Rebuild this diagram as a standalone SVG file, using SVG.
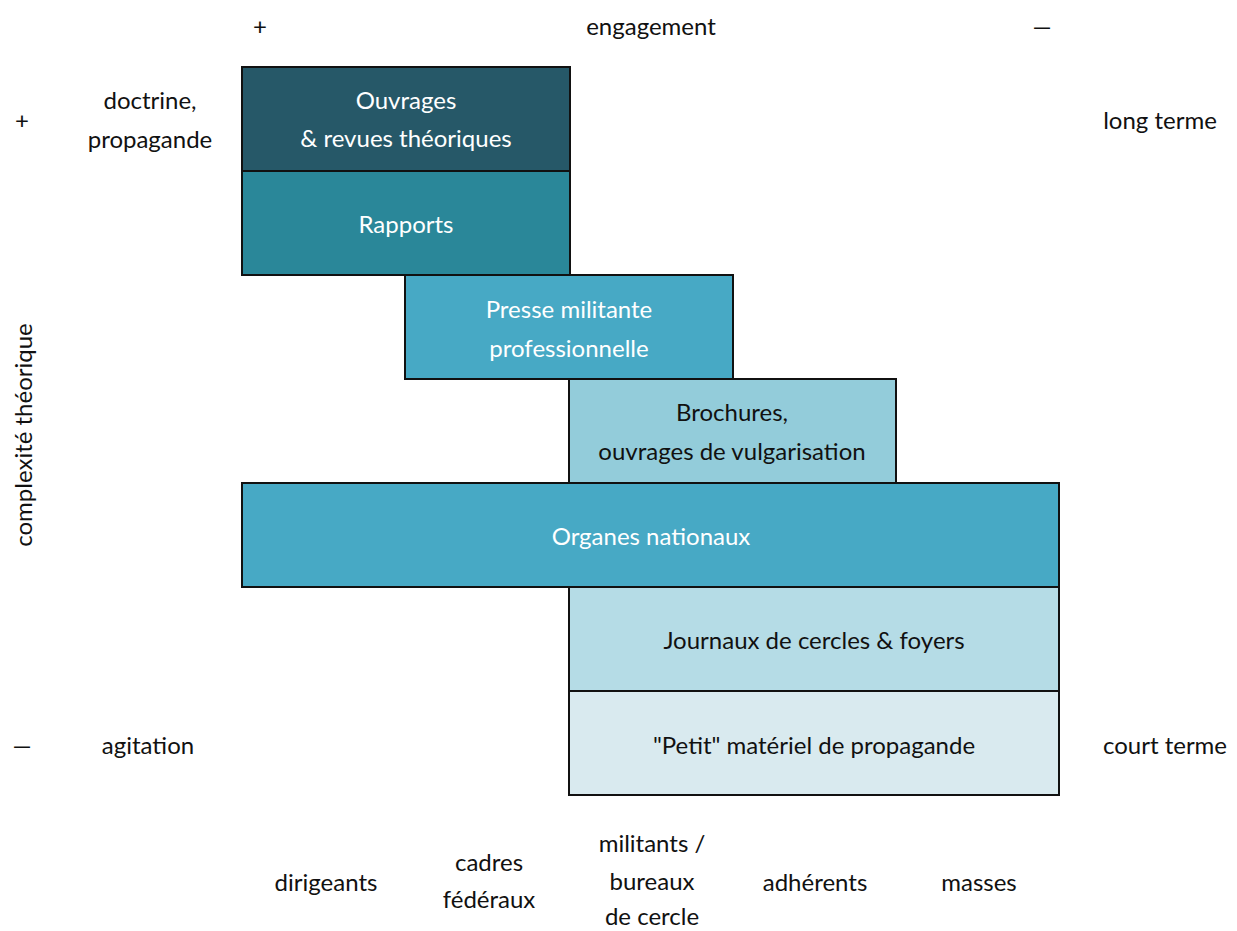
<svg xmlns="http://www.w3.org/2000/svg" width="1237" height="931" viewBox="0 0 1237 931">
<style>
text{font-family:Lato,"Open Sans","Liberation Sans",sans-serif;font-size:24px;text-anchor:middle;fill:#111;}
.w{fill:#fff;}
.box{stroke:#111;stroke-width:2;}
</style>
<rect width="1237" height="931" fill="#fff"/>
<g id="axes">
<text x="260" y="35">+</text>
<text x="651" y="35">engagement</text>
<text x="1042" y="35">—</text>
<text x="22" y="129">+</text>
<text x="150" y="109">doctrine,</text>
<text x="150" y="148">propagande</text>
<text x="1160" y="129">long terme</text>
<text transform="translate(32,435) rotate(-90)">complexité théorique</text>
<text x="22" y="754">—</text>
<text x="148" y="754">agitation</text>
<text x="1165" y="754">court terme</text>
<text x="326" y="891">dirigeants</text>
<text x="489" y="871">cadres</text>
<text x="489" y="908">fédéraux</text>
<text x="652" y="852">militants /</text>
<text x="652" y="890">bureaux</text>
<text x="652" y="925">de cercle</text>
<text x="815" y="891">adhérents</text>
<text x="979" y="891">masses</text>
</g>
<g id="ouvrages">
<rect class="box" x="242" y="67" width="328" height="104" fill="#265868"/>
<text class="w" x="406" y="109">Ouvrages</text>
<text class="w" x="406" y="147">&amp; revues théoriques</text>
</g>
<g id="rapports">
<rect class="box" x="242" y="171" width="328" height="104" fill="#2a8799"/>
<text class="w" x="406" y="233">Rapports</text>
</g>
<g id="presse">
<rect class="box" x="405" y="275" width="328" height="104" fill="#47a9c5"/>
<text class="w" x="569" y="318">Presse militante</text>
<text class="w" x="569" y="357">professionnelle</text>
</g>
<g id="brochures">
<rect class="box" x="569" y="379" width="327" height="104" fill="#93ccda"/>
<text x="732" y="421">Brochures,</text>
<text x="732" y="460">ouvrages de vulgarisation</text>
</g>
<g id="organes">
<rect class="box" x="242" y="483" width="817" height="104" fill="#47a9c5"/>
<text class="w" x="651" y="545">Organes nationaux</text>
</g>
<g id="journaux">
<rect class="box" x="569" y="587" width="490" height="104" fill="#b5dce6"/>
<text x="814" y="649">Journaux de cercles &amp; foyers</text>
</g>
<g id="petit">
<rect class="box" x="569" y="691" width="490" height="104" fill="#d9eaef"/>
<text x="814" y="754">"Petit" matériel de propagande</text>
</g>
<g id="connectors"/>
</svg>
